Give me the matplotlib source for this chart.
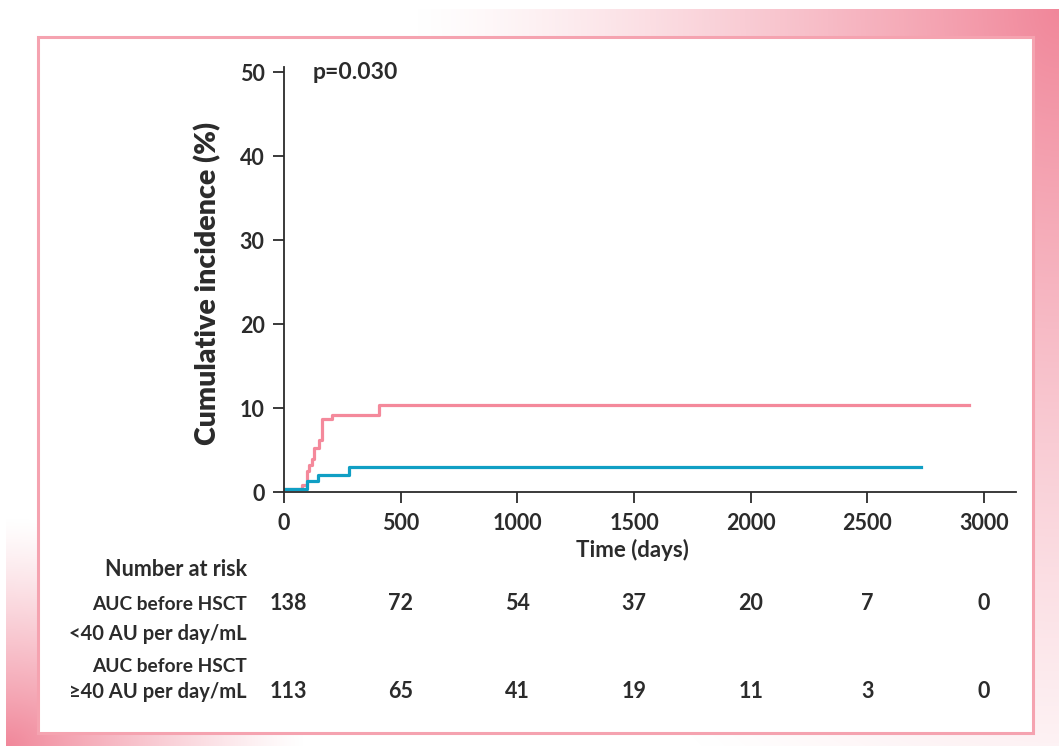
import numpy as np
import matplotlib
matplotlib.use('Agg')
import matplotlib.pyplot as plt
from matplotlib.patches import Rectangle

plt.rcParams['font.family'] = ['Lato', 'DejaVu Sans']
plt.rcParams['font.weight'] = 'bold'

# cumulative incidence curves (days, %)
low_t = [0, 75, 97, 109, 119, 130, 150, 161, 204, 409, 2936]
low_ci = [0.4, 0.9, 2.5, 3.3, 4.0, 5.3, 6.2, 8.7, 9.2, 10.4, 10.4]
high_t = [0, 97, 147, 280, 2729]
high_ci = [0.4, 1.3, 2.0, 3.0, 3.0]

xticks = [0, 500, 1000, 1500, 2000, 2500, 3000]
yticks = [0, 10, 20, 30, 40, 50]
risk_low = [138, 72, 54, 37, 20, 7, 0]
risk_high = [113, 65, 41, 19, 11, 3, 0]

pink = '#f4899b'
blue = '#109fc4'
dark = '#2b2b2b'

W, H = 1061, 746
fig = plt.figure(figsize=(W / 100, H / 100), dpi=100)

# decorative background frame
bg = fig.add_axes([0, 0, 1, 1], zorder=-2)
bg.set_axis_off()
yy, xx = np.mgrid[0:H, 0:W]
a_tr = np.clip(1 - np.hypot((xx - 1058) / 650, (yy - 9) / 900), 0, 1) ** 1.3
a_bl = np.clip(1 - np.hypot((xx - 6) / 300, (yy - 746) / 230), 0, 1) ** 1.2
alpha = np.maximum(a_tr, a_bl) * 0.95
band = (xx >= 6) & (xx <= 1058) & (yy >= 9)
alpha = np.where(band, alpha, 0)
img = np.ones((H, W, 4))
img[..., 0] = 240 / 255
img[..., 1] = 128 / 255
img[..., 2] = 148 / 255
img[..., 3] = alpha
bg.imshow(img, extent=[0, W, H, 0], aspect='auto')
bg.set_xlim(0, W)
bg.set_ylim(H, 0)
bg.add_patch(Rectangle((38, 37), 995, 696, facecolor='white',
                       edgecolor='#f5a3b0', lw=2.2))

ax = fig.add_axes([284 / W, 1 - 492.3 / H, 732 / W, 425.3 / H])
ax.step(low_t, low_ci, where='post', color=pink, lw=2.3)
ax.step(high_t, high_ci, where='post', color=blue, lw=2.3)
ax.set_xlim(0, 3137)
ax.set_ylim(0, 50.6)
ax.set_xticks(xticks)
ax.set_yticks(yticks)
ax.spines['top'].set_visible(False)
ax.spines['right'].set_visible(False)
for s in ['left', 'bottom']:
    ax.spines[s].set_color(dark)
    ax.spines[s].set_linewidth(1.3)
ax.tick_params(direction='out', length=8, width=1.3, color=dark,
               labelsize=15.5, labelcolor=dark)
ax.tick_params(axis='x', pad=7)
ax.tick_params(axis='y', pad=6)
ax.patch.set_alpha(0)
ax.text(124, 50, 'p=0.030', fontsize=16.5, color=dark, ha='left', va='center')

fig.text(208 / W, 1 - 283 / H, 'Cumulative incidence (%)', rotation=90,
         fontsize=20.5, fontweight='heavy', color=dark, ha='center', va='center')
fig.text(632 / W, 1 - 550 / H, 'Time (days)', fontsize=16, color=dark,
         ha='center', va='center')

lx = 247 / W
fs = 14.5
fig.text(lx, 1 - 570 / H, 'Number at risk', fontsize=15.5, color=dark, ha='right', va='center')
fig.text(lx, 1 - 604 / H, 'AUC before HSCT', fontsize=13.8, color=dark, ha='right', va='center')
fig.text(lx, 1 - 634 / H, '<40 AU per day/mL', fontsize=fs, color=dark, ha='right', va='center')
fig.text(lx, 1 - 666 / H, 'AUC before HSCT', fontsize=13.8, color=dark, ha='right', va='center')
fig.text(lx, 1 - 692 / H, '≥40 AU per day/mL', fontsize=fs, color=dark, ha='right', va='center')

for t, n1, n2 in zip(xticks, risk_low, risk_high):
    x = max(t, 20)
    px = ax.transData.transform((x, 0))[0] / W
    fig.text(px, 1 - 604 / H, str(n1), fontsize=15.5, color=dark, ha='center', va='center')
    fig.text(px, 1 - 692 / H, str(n2), fontsize=15.5, color=dark, ha='center', va='center')

fig.savefig('out.png', dpi=100)
